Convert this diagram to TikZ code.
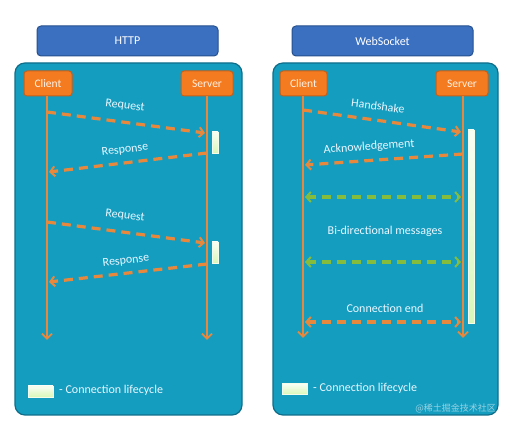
\documentclass[tikz,border=0pt]{standalone}
\usepackage{fontspec}
\setmainfont{Carlito}
\newfontfamily\cjk{Noto Sans CJK SC}
\usetikzlibrary{arrows.meta,shadings}
\definecolor{panelfill}{HTML}{159DC0}
\definecolor{paneldraw}{HTML}{0E6E8A}
\definecolor{titlefill}{HTML}{3B70C0}
\definecolor{titledraw}{HTML}{26508E}
\definecolor{boxfill}{HTML}{F47B20}
\definecolor{boxdraw}{HTML}{C4601A}
\definecolor{lifeline}{HTML}{E8883C}
\definecolor{msgorange}{HTML}{E8883C}
\definecolor{msggreen}{HTML}{86BC3C}
\definecolor{labeltext}{HTML}{EAF8FF}
\definecolor{barlight}{HTML}{D8F8B8}
\tikzset{
  panel/.style={draw=paneldraw, line width=1.2pt, fill=panelfill, rounded corners=10pt},
  titlebox/.style={draw=titledraw, line width=1pt, fill=titlefill, rounded corners=4pt, text=white, font=\fontsize{12}{14}\selectfont},
  actor/.style={draw=boxdraw, line width=1pt, fill=boxfill, rounded corners=3pt, text=white!90!orange, font=\fontsize{11.5}{13}\selectfont},
  life/.style={draw=lifeline, line width=1.8pt, arrows={-Straight Barb[length=5pt,width=10pt]}},
  msgline/.style={line width=3.2pt, dash pattern=on 9pt off 6pt},
  msg/.style={draw=msgorange, msgline, arrows={-Straight Barb[length=4.5pt,width=10pt,line width=2pt]}},
  bimsg/.style={draw=msgorange, msgline, arrows={Straight Barb[length=4.5pt,width=10pt,line width=2pt]-Straight Barb[length=4.5pt,width=10pt,line width=2pt]}},
  gmsg/.style={draw=msggreen, msgline, arrows={Straight Barb[length=4.5pt,width=10pt,line width=2pt]-Straight Barb[length=4.5pt,width=10pt,line width=2pt]}},
  lbl/.style={text=labeltext, font=\fontsize{12}{14}\selectfont},
  bar/.style={draw=white!70!barlight, line width=0.6pt, top color=white!85!barlight, bottom color=barlight},
}
\begin{document}
\begin{tikzpicture}[x=1pt,y=1pt]
\useasboundingbox (0,0) rectangle (509,427);
\fill[white] (0,0) rectangle (509,427);

% ---------------- HTTP ----------------
\node[titlebox, minimum width=181pt, minimum height=30pt] (httptitle) at (127.5,427-41) {HTTP};
\draw[panel] (15,427-63) rectangle (242,427-415);
\node[actor, minimum width=48pt, minimum height=25pt] (hc) at (48,427-83.5) {Client};
\node[actor, minimum width=52pt, minimum height=25pt] (hs) at (207,427-83.5) {Server};
\coordinate (hcend) at (47,427-340);
\coordinate (hsend) at (207,427-340);
\draw[life] (hc.south -| hcend) -- (hcend);
\draw[life] (hs.south) -- (hsend);

\node[bar, minimum width=6pt, minimum height=21pt, inner sep=0pt] (hbar1) at (215,427-142.5) {};
\node[bar, minimum width=6pt, minimum height=21pt, inner sep=0pt] (hbar2) at (215,427-252.5) {};

\coordinate (hr1a) at (47,427-112); \coordinate (hr1b) at (205,427-133);
\coordinate (hp1a) at (207,427-153); \coordinate (hp1b) at (49,427-172);
\coordinate (hr2a) at (47,427-222); \coordinate (hr2b) at (205,427-243);
\coordinate (hp2a) at (207,427-264); \coordinate (hp2b) at (49,427-282);
\draw[msg] (hr1a) -- (hr1b);
\draw[msg] (hp1a) -- (hp1b);
\draw[msg] (hr2a) -- (hr2b);
\draw[msg] (hp2a) -- (hp2b);
\node[lbl, rotate=-7] (hreq1) at (125,427-106) {Request};
\node[lbl, rotate=7] (hres1) at (125,427-150) {Response};
\node[lbl, rotate=-7] (hreq2) at (125,427-216) {Request};
\node[lbl, rotate=7] (hres2) at (126,427-261) {Response};

\node[bar, minimum width=25pt, minimum height=11pt, inner sep=0pt] (hleg) at (40.5,427-391.5) {};
\node[lbl, anchor=west, inner sep=0pt] (hlegt) at (59,427-390) {- Connection lifecycle};

% ---------------- WebSocket ----------------
\node[titlebox, minimum width=181pt, minimum height=30pt] (wstitle) at (382.5,427-41) {WebSocket};
\draw[panel] (273,427-63) rectangle (498,427-415);
\node[actor, minimum width=47pt, minimum height=25pt] (wc) at (303.5,427-83.5) {Client};
\node[actor, minimum width=52pt, minimum height=25pt] (ws) at (462,427-83.5) {Server};
\coordinate (wcend) at (303,427-338);
\coordinate (wsend) at (463,427-338);
\draw[life] (wc.south -| wcend) -- (wcend);
\draw[life] (ws.south -| wsend) -- (wsend);

\node[bar, minimum width=6pt, minimum height=193pt, inner sep=0pt] (wbar) at (471,427-226.5) {};

\coordinate (wh1) at (303,427-110); \coordinate (wh2) at (461,427-132);
\coordinate (wa1) at (463,427-154); \coordinate (wa2) at (305,427-165);
\coordinate (wg1a) at (305,427-197); \coordinate (wg1b) at (461,427-197);
\coordinate (wg2a) at (305,427-262); \coordinate (wg2b) at (461,427-262);
\coordinate (woa) at (305,427-322); \coordinate (wob) at (461,427-322);
\draw[msg] (wh1) -- (wh2);
\draw[msg] (wa1) -- (wa2);
\draw[gmsg] (wg1a) -- (wg1b);
\draw[gmsg] (wg2a) -- (wg2b);
\draw[bimsg] (woa) -- (wob);
\node[lbl, rotate=-7] (whs) at (378,427-106) {Handshake};
\node[lbl, rotate=4] (wack) at (369,427-147) {Acknowledgement};
\node[lbl] (wbi) at (385,427-231) {Bi-directional messages};
\node[lbl] (wend) at (385,427-308) {Connection end};

\node[bar, minimum width=25pt, minimum height=11pt, inner sep=0pt] (wleg) at (294.5,427-389) {};
\node[lbl, anchor=west, inner sep=0pt] (wlegt) at (313,427-388) {- Connection lifecycle};

\node[text=white, opacity=0.55, font=\cjk\fontsize{9}{10}\selectfont, anchor=east, inner sep=0pt] (wm) at (496,427-408) {@稀土掘金技术社区};
\end{tikzpicture}
\end{document}
